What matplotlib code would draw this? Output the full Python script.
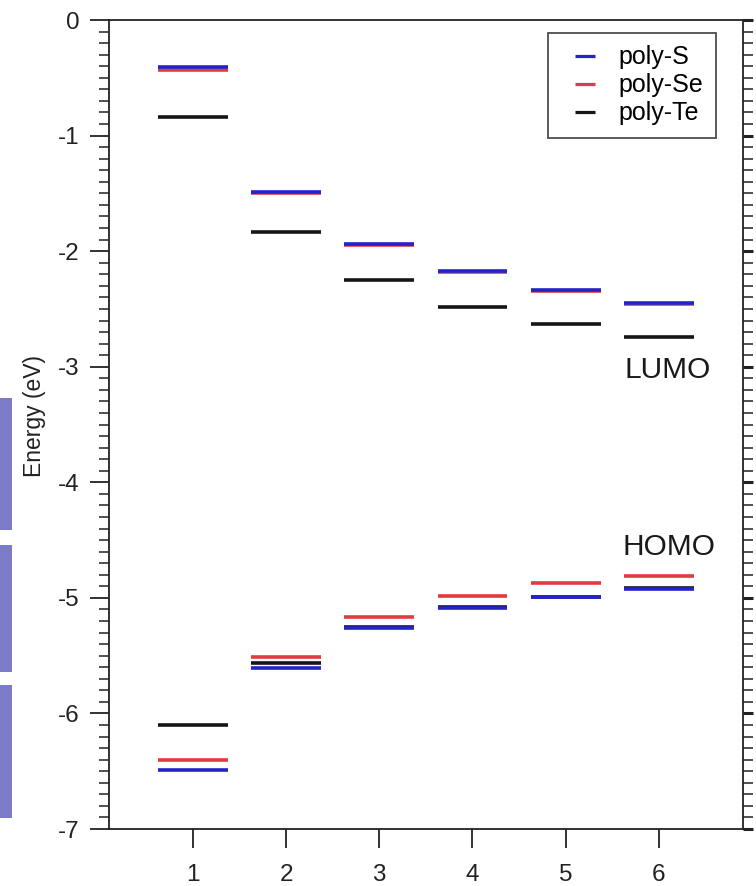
import matplotlib.pyplot as plt
from matplotlib.patches import Rectangle
from matplotlib.lines import Line2D
from matplotlib.ticker import MultipleLocator

plt.rcParams['font.family'] = ['Liberation Sans', 'DejaVu Sans']
plt.rcParams['axes.unicode_minus'] = False

# chain length index
levels = [1, 2, 3, 4, 5, 6]

# LUMO energies (eV)
lumo_s = [-0.405, -1.488, -1.941, -2.172, -2.336, -2.451]
lumo_se = [-0.433, -1.494, -1.946, -2.177, -2.341, -2.456]
lumo_te = [-0.835, -1.830, -2.250, -2.483, -2.630, -2.740]

# HOMO energies (eV)
homo_s = [-6.492, -5.607, -5.264, -5.090, -4.993, -4.921]
homo_se = [-6.406, -5.510, -5.168, -4.984, -4.872, -4.811]
homo_te = [-6.103, -5.564, -5.255, -5.082, -4.990, -4.918]

series = [
    ('poly-S', lumo_s, homo_s, '#2323c8', 4),
    ('poly-Se', lumo_se, homo_se, '#e33a3f', 3),
    ('poly-Te', lumo_te, homo_te, '#151515', 2),
]

half_w = 0.375

fig = plt.figure(figsize=(7.56, 8.86), dpi=100)
ax = fig.add_axes([0.1442, 0.0643, 0.9824 - 0.1442, 0.9774 - 0.0643])

handles = []
for name, lumo, homo, col, z in series:
    xs = [x - half_w for x in levels]
    xe = [x + half_w for x in levels]
    ax.hlines(lumo, xs, xe, colors=col, lw=2.6, zorder=z)
    ax.hlines(homo, xs, xe, colors=col, lw=2.6, zorder=z)
    # short dash legend key like the original
    handles.append(Line2D([], [], color=col, marker='_', markersize=14.4,
                          markeredgewidth=2.3, linestyle='none', label=name))

ax.text(5.63, -3.03, 'LUMO', fontsize=21.5, va='center', ha='left', color='#1a1a1a')
ax.text(5.61, -4.56, 'HOMO', fontsize=21.5, va='center', ha='left', color='#1a1a1a')

ax.set_xlim(0.1, 6.9)
ax.set_ylim(-7, 0)
ax.set_xticks(levels)
ax.yaxis.set_major_locator(MultipleLocator(1))
ax.yaxis.set_minor_locator(MultipleLocator(0.1))

for s in ax.spines.values():
    s.set_linewidth(1.3)
    s.set_color('#222222')

ax.tick_params(axis='y', which='major', direction='out', length=14, width=1.3,
               labelsize=17.5, pad=7, right=True, colors='#222222')
ax.tick_params(axis='y', which='minor', direction='out', length=7, width=1.1,
               right=True, colors='#222222')
ax.tick_params(axis='y', which='major', labelright=False)
ax.tick_params(axis='x', which='major', direction='out', length=14, width=1.3,
               labelsize=17.5, pad=11, colors='#222222')
ax.tick_params(axis='x', which='minor', bottom=False)
for t in ax.yaxis.get_major_ticks():
    t.tick2line.set_markersize(7)
    t.tick2line.set_markeredgewidth(2.2)

ax.set_ylabel('Energy (eV)', fontsize=16.5, color='#222222')
ax.yaxis.set_label_coords(-0.10, 0.51)

leg = ax.legend(handles=handles, loc='upper right', bbox_to_anchor=(0.958, 0.984),
                borderaxespad=0, fontsize=18, handlelength=2.0, handletextpad=0.34,
                labelspacing=0.16, fancybox=False, frameon=True, borderpad=0.5)
leg.get_frame().set_edgecolor('#222222')
leg.get_frame().set_linewidth(1.3)

# purple strips cut from the neighbouring panel
for y0, h in [(0.4018, 0.149), (0.2415, 0.1433), (0.0767, 0.150)]:
    fig.patches.append(Rectangle((0, y0), 0.0159, h, transform=fig.transFigure,
                                 facecolor='#7b7bc8', edgecolor='none'))

fig.savefig('out.png', dpi=100)
